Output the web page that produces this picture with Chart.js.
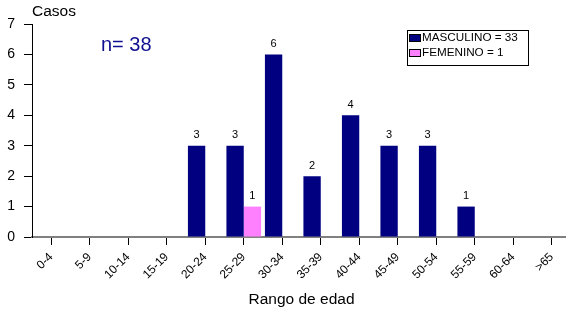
<!DOCTYPE html>
<html>
<head>
<meta charset="utf-8">
<script src="https://cdn.jsdelivr.net/npm/chart.js@4"></script>
<style>
  html, body { margin: 0; padding: 0; background: #fff; overflow: hidden; }
  #wrap { position: relative; width: 571px; height: 311px; }
</style>
</head>
<body>
<div id="wrap"><canvas id="edadChart"></canvas></div>
<script>
// Casos por rango de edad
const rangos = ['0-4', '5-9', '10-14', '15-19', '20-24', '25-29', '30-34',
  '35-39', '40-44', '45-49', '50-54', '55-59', '60-64', '>65'];
const masculino = [0, 0, 0, 0, 3, 3, 6, 2, 4, 3, 3, 1, 0, 0];
const femenino = [0, 0, 0, 0, 0, 1, 0, 0, 0, 0, 0, 0, 0, 0];
const serieNombres = ['MASCULINO = 33', 'FEMENINO = 1'];
const yMax = 7;
const totalTexto = 'n= 38';

const FONT = '"Liberation Sans", Arial, sans-serif';

// etiquetas, "Casos", n= y leyenda
const extras = {
  id: 'extras',
  afterDatasetsDraw(chart) {
    const { ctx, chartArea } = chart;
    ctx.save();
    ctx.fillStyle = '#000';
    ctx.font = '11px ' + FONT;
    ctx.textAlign = 'center';
    ctx.textBaseline = 'bottom';
    chart.data.datasets.forEach((ds, i) => {
      chart.getDatasetMeta(i).data.forEach((bar, j) => {
        if (ds.data[j] > 0) ctx.fillText(ds.data[j], bar.x, bar.y - 5);
      });
    });

    ctx.textAlign = 'left';
    ctx.textBaseline = 'middle';
    ctx.font = '15.5px ' + FONT;
    ctx.fillText('Casos', chartArea.left, 12);

    ctx.fillStyle = '#101090';
    ctx.font = '20px ' + FONT;
    ctx.fillText(totalTexto, 101, 45);

    // leyenda
    ctx.strokeStyle = '#000';
    ctx.lineWidth = 1;
    ctx.strokeRect(407.5, 30.5, 121, 35);
    ctx.font = '11.7px ' + FONT;
    chart.data.datasets.forEach((ds, i) => {
      const y = 38 + i * 15;
      ctx.fillStyle = ds.backgroundColor;
      ctx.fillRect(409.5, y - 3.5, 11, 7);
      ctx.strokeStyle = '#000';
      ctx.strokeRect(409.5, y - 3.5, 11, 7);
      ctx.fillStyle = '#000';
      ctx.fillText(ds.label, 422, y);
    });
    ctx.restore();
  }
};

const ctx = document.getElementById('edadChart').getContext('2d');
new Chart(ctx, {
  type: 'bar',
  data: {
    labels: rangos,
    datasets: [{
      label: serieNombres[0],
      data: masculino,
      backgroundColor: '#000080',
      borderWidth: 0,
      barPercentage: 1,
      categoryPercentage: 0.9
    }, {
      label: serieNombres[1],
      data: femenino,
      backgroundColor: '#ff80ff',
      borderWidth: 0,
      barPercentage: 1,
      categoryPercentage: 0.9
    }]
  },
  options: {
    responsive: true,
    maintainAspectRatio: false,
    animation: false,
    layout: { padding: { top: 24, left: 0, right: 0, bottom: 0 } },
    scales: {
      x: {
        afterFit: (s) => { s.height = 74; },
        grid: {
          offset: false,
          drawOnChartArea: false,
          tickLength: 8,
          color: '#000'
        },
        border: { color: '#808080', width: 2 },
        ticks: {
          autoSkip: false,
          maxRotation: 45,
          minRotation: 45,
          padding: 5,
          color: '#000',
          font: { family: FONT, size: 12 }
        },
        title: {
          display: true,
          text: 'Rango de edad',
          color: '#000',
          font: { family: FONT, size: 15.5 },
          padding: { top: 0, bottom: 2 }
        }
      },
      y: {
        min: 0,
        max: yMax,
        afterFit: (s) => { s.width = 32; },
        grid: {
          drawOnChartArea: false,
          tickLength: 8,
          color: '#000'
        },
        border: { color: '#000' },
        ticks: {
          stepSize: 1,
          padding: 9,
          color: '#000',
          font: { family: FONT, size: 14 }
        }
      }
    },
    plugins: {
      legend: { display: false },
      tooltip: { enabled: false }
    }
  },
  plugins: [extras]
});
</script>
</body>
</html>
